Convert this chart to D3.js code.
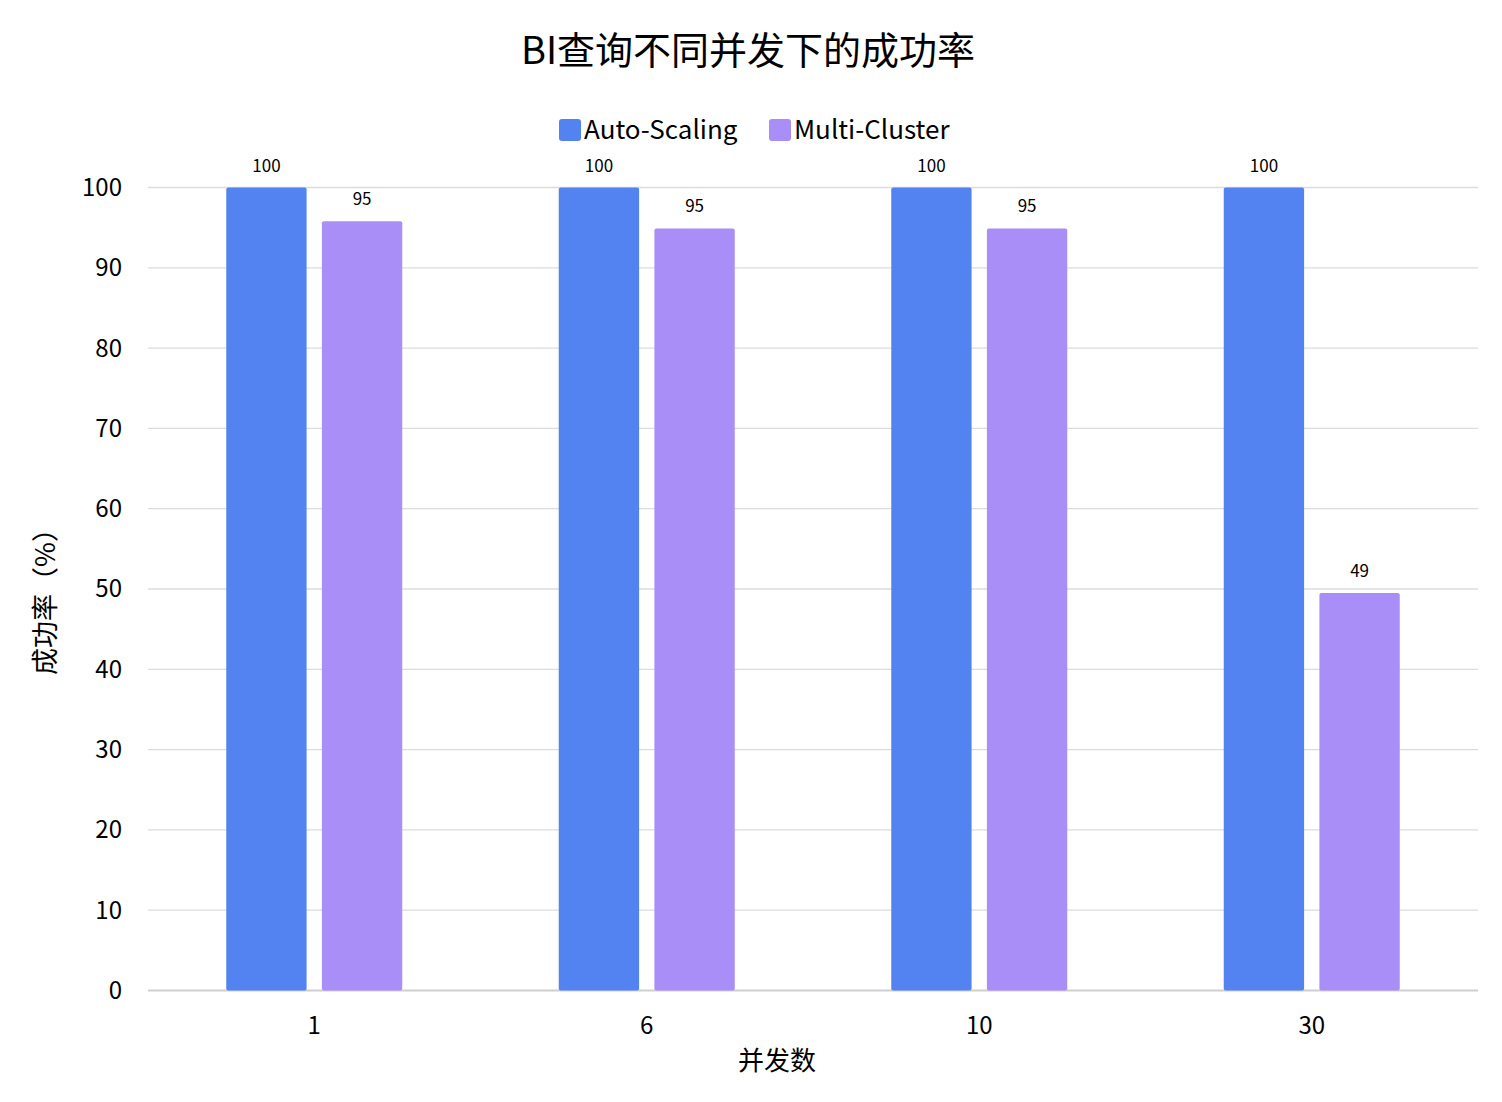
<!DOCTYPE html>
<html lang="zh">
<head>
<meta charset="utf-8">
<title>BI查询不同并发下的成功率</title>
<script src="https://cdn.jsdelivr.net/npm/d3@7"></script>
<style>
  body { margin: 0; background: #fff; }
  svg text { font-family: "Noto Sans CJK SC", "Noto Sans", sans-serif; fill: #000; }
</style>
</head>
<body>
<svg id="chart" width="1502" height="1102"></svg>
<script>
// data
var categories = ["1", "6", "10", "30"];
var seriesNames = ["Auto-Scaling", "Multi-Cluster"];
var autoScaling = [100, 100, 100, 100];
var multiCluster = [95.8, 94.9, 94.9, 49.5];
var autoLabels = ["100", "100", "100", "100"];
var multiLabels = ["95", "95", "95", "49"];
var yTicks = [0, 10, 20, 30, 40, 50, 60, 70, 80, 90, 100];
var colors = ["#5383f0", "#a98ef7"];

var svg = d3.select("#chart");
var plotLeft = 148, plotRight = 1478, plotTop = 187.5, plotBottom = 990.5;

var x = d3.scaleBand().domain(categories).range([plotLeft, plotRight]);
var xs = d3.scaleBand().domain(seriesNames).range([-88, 88]).paddingInner(0.16);
var y = d3.scaleLinear().domain([0, 100]).range([plotBottom, plotTop]);

// grid
svg.append("g").selectAll("line")
  .data(yTicks)
  .enter().append("line")
  .attr("x1", plotLeft).attr("x2", plotRight)
  .attr("y1", function(d) { return y(d); })
  .attr("y2", function(d) { return y(d); })
  .attr("stroke", function(d) { return d == 0 ? "#cfcfcf" : "#dcdcdc"; })
  .attr("stroke-width", function(d) { return d == 0 ? 2 : 1.3; });

// y tick labels
svg.append("g").selectAll("text")
  .data(yTicks)
  .enter().append("text")
  .attr("x", 122)
  .attr("y", function(d) { return y(d); })
  .attr("dy", "0.35em")
  .attr("text-anchor", "end")
  .attr("font-size", 24)
  .text(function(d) { return d; });

// bars
var series = [
  { name: seriesNames[0], values: autoScaling, labels: autoLabels, color: colors[0] },
  { name: seriesNames[1], values: multiCluster, labels: multiLabels, color: colors[1] }
];

series.forEach(function(s) {
  var g = svg.append("g");
  g.selectAll("rect")
    .data(s.values)
    .enter().append("rect")
    .attr("x", function(d, i) { return x(categories[i]) + x.bandwidth() / 2 + xs(s.name); })
    .attr("y", function(d) { return y(d); })
    .attr("width", xs.bandwidth())
    .attr("height", function(d) { return y(0) - y(d); })
    .attr("rx", 2)
    .attr("fill", s.color);

  g.selectAll("text")
    .data(s.values)
    .enter().append("text")
    .attr("x", function(d, i) { return x(categories[i]) + x.bandwidth() / 2 + xs(s.name) + xs.bandwidth() / 2; })
    .attr("y", function(d) { return y(d) - 16; })
    .attr("text-anchor", "middle")
    .attr("font-size", 17)
    .text(function(d, i) { return s.labels[i]; });
});

// x tick labels
svg.append("g").selectAll("text")
  .data(categories)
  .enter().append("text")
  .attr("x", function(d) { return x(d) + x.bandwidth() / 2; })
  .attr("y", 1034)
  .attr("text-anchor", "middle")
  .attr("font-size", 24)
  .text(function(d) { return d; });

// axis titles
svg.append("text")
  .attr("x", 777).attr("y", 1070)
  .attr("text-anchor", "middle")
  .attr("font-size", 26)
  .text("并发数");

svg.append("text")
  .attr("transform", "translate(55,595) rotate(-90)")
  .attr("text-anchor", "middle")
  .attr("font-size", 27)
  .text("成功率（%）");

// title
svg.append("text")
  .attr("x", 748).attr("y", 64)
  .attr("text-anchor", "middle")
  .attr("font-size", 38)
  .text("BI查询不同并发下的成功率");

// legend
var legendX = [559, 769];
var legend = svg.append("g").selectAll("g")
  .data(series)
  .enter().append("g")
  .attr("transform", function(d, i) { return "translate(" + legendX[i] + ",119)"; });
legend.append("rect")
  .attr("width", 22).attr("height", 22).attr("rx", 3)
  .attr("fill", function(d) { return d.color; });
legend.append("text")
  .attr("x", 25).attr("y", 11)
  .attr("dy", "0.35em")
  .attr("font-size", 26)
  .text(function(d) { return d.name; });
</script>
</body>
</html>
